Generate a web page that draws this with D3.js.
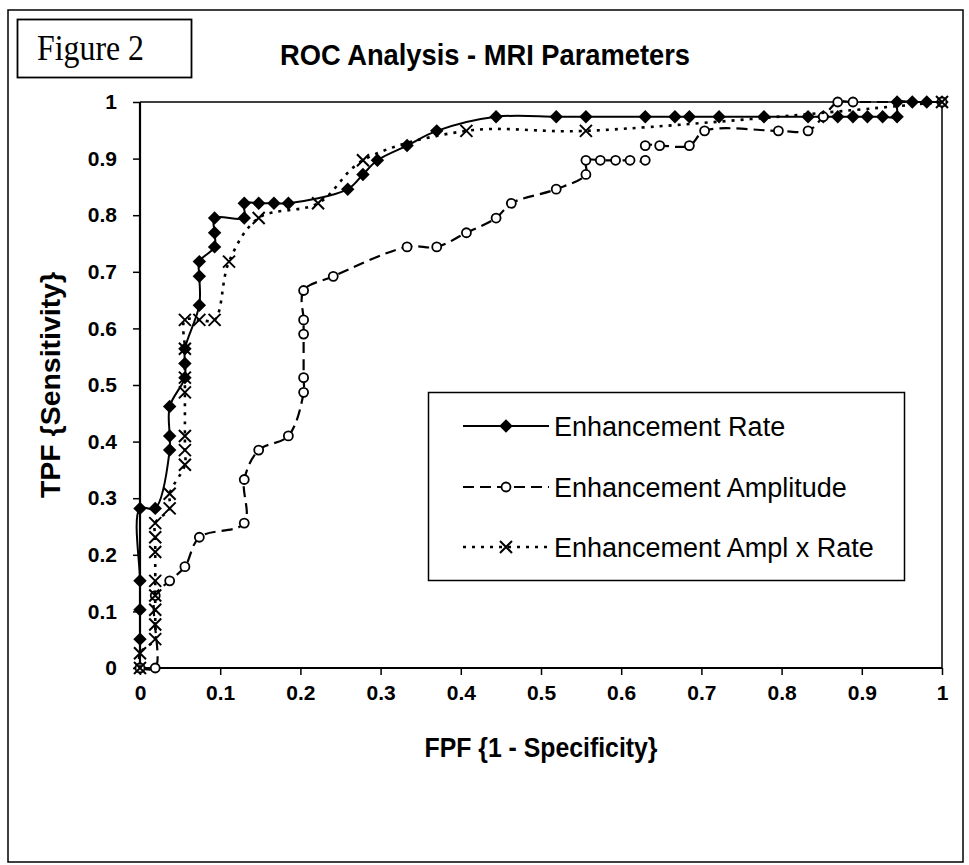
<!DOCTYPE html>
<html>
<head>
<meta charset="utf-8">
<script src="https://cdn.jsdelivr.net/npm/d3@7"></script>
<style>
  html, body { margin: 0; padding: 0; background: #fff; }
  svg { display: block; }
</style>
</head>
<body>
<svg id="chart" width="969" height="865"></svg>
<script>
// ---- data ----
const seriesNames = ["Enhancement Rate", "Enhancement Amplitude", "Enhancement Ampl x Rate"];

const rateX = [0, 0, 0, 0, 0, 0.019, 0.037, 0.037, 0.037, 0.056, 0.056, 0.056, 0.074, 0.074, 0.074, 0.093, 0.093, 0.093, 0.130, 0.130, 0.148, 0.167, 0.185, 0.259, 0.278, 0.296, 0.333, 0.370, 0.444, 0.519, 0.556, 0.630, 0.667, 0.685, 0.722, 0.778, 0.833, 0.852, 0.870, 0.889, 0.907, 0.926, 0.944, 0.944, 0.963, 0.981, 1];
const rateY = [0, 0.051, 0.103, 0.154, 0.282, 0.282, 0.385, 0.410, 0.462, 0.513, 0.538, 0.564, 0.641, 0.692, 0.718, 0.744, 0.769, 0.795, 0.795, 0.821, 0.821, 0.821, 0.821, 0.846, 0.872, 0.897, 0.923, 0.949, 0.974, 0.974, 0.974, 0.974, 0.974, 0.974, 0.974, 0.974, 0.974, 0.974, 0.974, 0.974, 0.974, 0.974, 0.974, 1, 1, 1, 1];

const amplX = [0, 0.019, 0.019, 0.037, 0.056, 0.074, 0.130, 0.130, 0.148, 0.185, 0.204, 0.204, 0.204, 0.204, 0.204, 0.241, 0.333, 0.370, 0.407, 0.444, 0.463, 0.519, 0.556, 0.556, 0.574, 0.593, 0.611, 0.630, 0.630, 0.648, 0.685, 0.704, 0.796, 0.833, 0.852, 0.870, 0.889, 1];
const amplY = [0, 0, 0.128, 0.154, 0.179, 0.231, 0.256, 0.333, 0.385, 0.410, 0.487, 0.513, 0.590, 0.615, 0.667, 0.692, 0.744, 0.744, 0.769, 0.795, 0.821, 0.846, 0.872, 0.897, 0.897, 0.897, 0.897, 0.897, 0.923, 0.923, 0.923, 0.949, 0.949, 0.949, 0.974, 1, 1, 1];

const prodX = [0, 0, 0.019, 0.019, 0.019, 0.019, 0.019, 0.019, 0.019, 0.019, 0.037, 0.037, 0.056, 0.056, 0.056, 0.056, 0.056, 0.056, 0.056, 0.074, 0.093, 0.111, 0.148, 0.222, 0.278, 0.407, 0.556, 1];
const prodY = [0, 0.026, 0.051, 0.077, 0.103, 0.128, 0.154, 0.205, 0.231, 0.256, 0.282, 0.308, 0.359, 0.385, 0.410, 0.487, 0.513, 0.564, 0.615, 0.615, 0.615, 0.718, 0.795, 0.821, 0.897, 0.949, 0.949, 1];

const xTickLabels = ["0", "0.1", "0.2", "0.3", "0.4", "0.5", "0.6", "0.7", "0.8", "0.9", "1"];
const yTickLabels = ["0", "0.1", "0.2", "0.3", "0.4", "0.5", "0.6", "0.7", "0.8", "0.9", "1"];

// ---- drawing ----
const svg = d3.select("#chart");
const W = 969, H = 865;
const SANS = "'Liberation Sans', Arial, Helvetica, sans-serif";
svg.append("rect").attr("width", W).attr("height", H).attr("fill", "#fff");

// outer figure frame
svg.append("rect").attr("x", 8).attr("y", 10).attr("width", 955).attr("height", 852)
  .attr("fill", "none").attr("stroke", "#000").attr("stroke-width", 1.5);

// "Figure 2" box
svg.append("rect").attr("x", 17.5).attr("y", 19.5).attr("width", 174).attr("height", 58)
  .attr("fill", "#fff").attr("stroke", "#000").attr("stroke-width", 1.8);
svg.append("text").attr("x", 37).attr("y", 60)
  .attr("font-family", "'Liberation Serif', 'Times New Roman', serif")
  .attr("font-size", 35).attr("textLength", 107).attr("lengthAdjust", "spacingAndGlyphs")
  .text("Figure 2");

// title
svg.append("text").attr("x", 280).attr("y", 65)
  .attr("font-family", SANS).attr("font-weight", "bold")
  .attr("font-size", 29).attr("textLength", 410).attr("lengthAdjust", "spacingAndGlyphs")
  .text("ROC Analysis - MRI Parameters");

const x = d3.scaleLinear().domain([0, 1]).range([140, 942]);
const y = d3.scaleLinear().domain([0, 1]).range([668, 102]);
const tickVals = d3.range(0, 11).map(i => i / 10);

// plot area border (top/right)
svg.append("path")
  .attr("d", `M${x(0)},${y(1)}H${x(1)}V${y(0)}`)
  .attr("fill", "none").attr("stroke", "#000").attr("stroke-width", 1.5);

// axes
const xAxis = d3.axisBottom(x).tickValues(tickVals).tickSize(7).tickPadding(10)
  .tickFormat((d, i) => xTickLabels[i]);
const yAxis = d3.axisLeft(y).tickValues(tickVals).tickSize(7).tickPadding(16)
  .tickFormat((d, i) => yTickLabels[i]);

const gx = svg.append("g").attr("transform", `translate(0,${y(0)})`).call(xAxis);
const gy = svg.append("g").attr("transform", `translate(${x(0)},0)`).call(yAxis);
[gx, gy].forEach(g => {
  g.select(".domain").attr("stroke", "#000").attr("stroke-width", 2.2);
  g.selectAll(".tick line").attr("stroke", "#000").attr("stroke-width", 1.5);
  g.selectAll(".tick text").attr("fill", "#000")
    .attr("font-family", SANS).attr("font-size", 21).attr("font-weight", "bold");
});
gy.select(".domain").attr("d", `M0,${y(1)}V${y(0)}`);
gx.select(".domain").attr("d", `M${x(0)},0H${x(1)}`);

// axis titles
svg.append("text").attr("x", 541).attr("y", 757).attr("text-anchor", "middle")
  .attr("font-family", SANS).attr("font-weight", "bold")
  .attr("font-size", 28).attr("textLength", 233).attr("lengthAdjust", "spacingAndGlyphs")
  .text("FPF {1 - Specificity}");
svg.append("text").attr("transform", "translate(60,385) rotate(-90)").attr("text-anchor", "middle")
  .attr("font-family", SANS).attr("font-weight", "bold")
  .attr("font-size", 27).attr("textLength", 226).attr("lengthAdjust", "spacingAndGlyphs")
  .text("TPF {Sensitivity}");

// series
const toPts = (xs, ys) => xs.map((v, i) => [v, ys[i]]);
const series = [
  { pts: toPts(rateX, rateY), dash: null, width: 2, marker: "diamond" },
  { pts: toPts(amplX, amplY), dash: "11,6", width: 2.2, marker: "circle" },
  { pts: toPts(prodX, prodY), dash: "3,6", width: 2.6, marker: "cross" }
];

const line = d3.line().x(d => x(d[0])).y(d => y(d[1])).curve(d3.curveCatmullRom.alpha(0.5));

const diamondPath = d3.symbol().type(d3.symbolDiamond2).size(115)();
function drawMarker(g, type, cx, cy) {
  if (type === "diamond") {
    g.append("path").attr("d", diamondPath).attr("transform", `translate(${cx},${cy})`)
      .attr("fill", "#000");
  } else if (type === "circle") {
    g.append("circle").attr("cx", cx).attr("cy", cy).attr("r", 4.5)
      .attr("fill", "#fff").attr("stroke", "#000").attr("stroke-width", 1.8);
  } else {
    const s = 6;
    g.append("path").attr("d", `M${cx-s},${cy-s}L${cx+s},${cy+s}M${cx-s},${cy+s}L${cx+s},${cy-s}`)
      .attr("stroke", "#000").attr("stroke-width", 2).attr("fill", "none");
  }
}

series.forEach(s => {
  const g = svg.append("g");
  g.append("path").datum(s.pts).attr("d", line).attr("fill", "none")
    .attr("stroke", "#000").attr("stroke-width", s.width)
    .attr("stroke-dasharray", s.dash);
  s.pts.forEach(p => drawMarker(g, s.marker, x(p[0]), y(p[1])));
});

// legend
const lg = svg.append("g");
lg.append("rect").attr("x", 428.5).attr("y", 392.5).attr("width", 476).attr("height", 188)
  .attr("fill", "#fff").attr("stroke", "#000").attr("stroke-width", 1.5);
const legendY = [426, 487, 547];
series.forEach((s, i) => {
  const ly = legendY[i];
  lg.append("path").attr("d", `M463,${ly}H549`).attr("stroke", "#000")
    .attr("stroke-width", s.width).attr("stroke-dasharray", s.dash).attr("fill", "none");
  drawMarker(lg, s.marker, 506, ly);
  lg.append("text").attr("x", 554).attr("y", ly + 10)
    .attr("font-family", SANS).attr("font-size", 27)
    .text(seriesNames[i]);
});
</script>
</body>
</html>
